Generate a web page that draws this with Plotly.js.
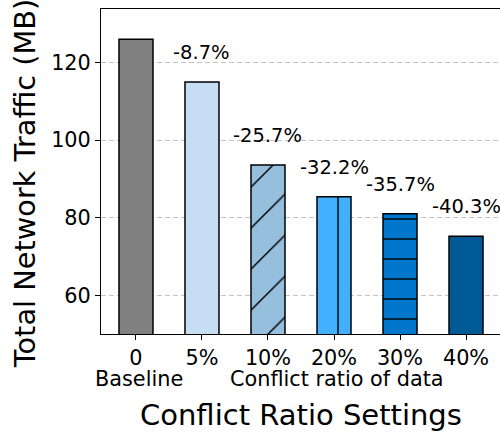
<!DOCTYPE html>
<html>
<head>
<meta charset="utf-8">
<script src="https://cdn.plot.ly/plotly-3.0.1.min.js"></script>
<style>html,body{margin:0;padding:0;background:#fff;}#chart{width:500px;height:434px;}</style>
</head>
<body>
<div id="chart"></div>
<script>
const categories = ['0', '5%', '10%', '20%', '30%', '40%'];
const traffic = [126.0, 115.0, 93.6, 85.4, 81.0, 75.2];
const reductionLabels = ['', '-8.7%', '-25.7%', '-32.2%', '-35.7%', '-40.3%'];
const groupLabels = ['Baseline', 'Conflict ratio of data'];
const barColors = ['#808080', '#c6ddf3', '#96bedd', '#42b0ff', '#0077cc', '#005a96'];
const hatches = ['', '', '/', '|', '-', ''];
const hatchSizes = [10, 10, 29, 43.1, 20, 10];
const hatchSolidity = [0.05, 0.05, 0.05, 0.033, 0.07, 0.05];

const FONT = 'DejaVu Sans, sans-serif';
const xs = categories.map((c, i) => i);

const traces = xs.map((x, i) => ({
  type: 'bar',
  x: [x],
  y: [traffic[i]],
  width: 0.515,
  marker: {
    color: barColors[i],
    line: {color: '#000', width: 1.5},
    pattern: {
      shape: hatches[i],
      size: hatchSizes[i],
      solidity: hatchSolidity[i],
      fgcolor: '#000',
      bgcolor: barColors[i],
      fgopacity: 1,
      fillmode: 'replace'
    }
  },
  showlegend: false,
  hoverinfo: 'skip'
}));

const annotations = [];
xs.forEach((x, i) => {
  if (reductionLabels[i]) {
    annotations.push({
      x: x, y: traffic[i], xref: 'x', yref: 'y',
      text: reductionLabels[i], showarrow: false,
      xanchor: 'center', yanchor: 'bottom', yshift: 16,
      font: {family: FONT, size: 19.5, color: '#000'}
    });
  }
});
annotations.push({
  x: 0.045, y: -0.138, xref: 'x', yref: 'paper', text: groupLabels[0], showarrow: false,
  xanchor: 'center', yanchor: 'middle', borderpad: 0, font: {family: FONT, size: 20.8, color: '#000'}
});
annotations.push({
  x: 3.045, y: -0.138, xref: 'x', yref: 'paper', text: groupLabels[1], showarrow: false,
  xanchor: 'center', yanchor: 'middle', borderpad: 0, font: {family: FONT, size: 20.8, color: '#000'}
});
annotations.push({
  x: 0.501, y: -0.249, xref: 'paper', yref: 'paper', text: 'Conflict Ratio Settings', showarrow: false,
  xanchor: 'center', yanchor: 'middle', font: {family: FONT, size: 29, color: '#000'}
});
annotations.push({
  x: -0.19, y: 0.4646, xref: 'paper', yref: 'paper', text: 'Total Network Traffic (MB)', showarrow: false,
  textangle: -90, xanchor: 'center', yanchor: 'middle', font: {family: FONT, size: 28.8, color: '#000'}
});

const layout = {
  width: 500, height: 434,
  margin: {l: 101, r: 0, t: 9, b: 100, pad: 0},
  paper_bgcolor: '#fff', plot_bgcolor: '#fff',
  barmode: 'overlay',
  xaxis: {
    range: [-0.53, 5.515],
    tickvals: xs, ticktext: categories,
    ticks: 'outside', ticklen: 5, tickwidth: 1, tickcolor: '#000',
    showline: true, linecolor: '#000', linewidth: 1, mirror: true,
    showgrid: false, zeroline: false,
    tickfont: {family: FONT, size: 20.8, color: '#000'}
  },
  yaxis: {
    range: [50, 133.8],
    tickvals: [60, 80, 100, 120],
    ticks: 'outside', ticklen: 5, tickwidth: 1, tickcolor: '#000',
    showline: true, linecolor: '#000', linewidth: 1, mirror: true,
    showgrid: true, gridcolor: '#c4c4c4', griddash: '5px,3px', gridwidth: 1,
    zeroline: false,
    tickfont: {family: FONT, size: 20.8, color: '#000'}
  },
  annotations: annotations,
  font: {family: FONT}
};

Plotly.newPlot('chart', traces, layout, {displayModeBar: false, staticPlot: true});
</script>
</body>
</html>
